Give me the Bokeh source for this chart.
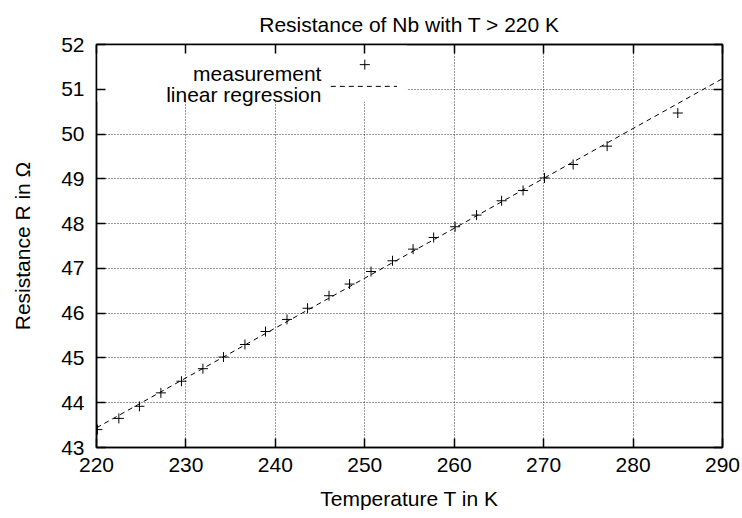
from bokeh.plotting import figure
from bokeh.models import (LinearAxis, SingleIntervalTicker, BoxAnnotation, Label,
                          Range1d, ColumnDataSource)
from bokeh.embed import file_html
from bokeh.resources import INLINE

# ---- data ----
temperature_K = [220.1, 222.5, 224.8, 227.2, 229.5, 231.9, 234.2, 236.6, 238.9,
                 241.3, 243.6, 246.0, 248.3, 250.7, 253.1, 255.4, 257.7, 260.1,
                 262.5, 265.3, 267.7, 270.1, 273.3, 277.1, 285.0]
resistance_ohm = [43.40, 43.65, 43.92, 44.22, 44.48, 44.76, 45.02, 45.30, 45.59,
                  45.86, 46.11, 46.39, 46.65, 46.93, 47.17, 47.43, 47.69, 47.93,
                  48.19, 48.51, 48.74, 49.02, 49.32, 49.73, 50.47]

# linear regression parameters
fit_T0 = 220.0
fit_R0 = 43.44        # Ohm at T0
fit_slope = 0.1114    # Ohm per K
fit_T = [220.0, 290.0]
fit_R = [fit_R0 + fit_slope * (t - fit_T0) for t in fit_T]

x_ticks_interval = 10
y_ticks_interval = 1
labels = ["measurement", "linear regression"]
title_text = "Resistance of Nb with T > 220 K"

FONT = "Liberation Sans"
FS = "21px"

p = figure(width=742, height=518, x_range=Range1d(220, 290), y_range=Range1d(43, 52),
           output_backend="svg", toolbar_location=None,
           min_border_left=96, min_border_right=20, min_border_top=44,
           min_border_bottom=71, background_fill_color="white",
           border_fill_color="white")

p.title.text = title_text
p.title.text_font = FONT
p.title.text_font_size = FS
p.title.text_font_style = "normal"
p.title.text_color = "black"
p.title.align = "center"
p.title.standoff = 18

p.outline_line_color = "black"
p.outline_line_width = 1.5
p.outline_line_alpha = 1.0

xt = SingleIntervalTicker(interval=x_ticks_interval, num_minor_ticks=0)
yt = SingleIntervalTicker(interval=y_ticks_interval, num_minor_ticks=0)

for ax, t in ((p.xaxis[0], xt), (p.yaxis[0], yt)):
    ax.ticker = t
    ax.major_tick_in = 9
    ax.major_tick_out = 0
    ax.minor_tick_line_color = None
    ax.major_tick_line_width = 1.5
    ax.major_tick_line_color = "black"
    ax.axis_line_color = "black"
    ax.axis_line_width = 1.5
    ax.major_label_text_font = FONT
    ax.major_label_text_font_size = FS
    ax.major_label_text_color = "black"
    ax.axis_label_text_font = FONT
    ax.axis_label_text_font_size = FS
    ax.axis_label_text_font_style = "normal"
    ax.axis_label_text_color = "black"

p.xaxis.axis_label = "Temperature T in K"
p.yaxis.axis_label = "Resistance R in \u03a9"
p.xaxis.major_label_standoff = 10
p.xaxis.axis_label_standoff = 12
p.yaxis.major_label_standoff = 12
p.yaxis.axis_label_standoff = 24

# mirrored ticks on top and right
for side, t in (("above", xt), ("right", yt)):
    ax = LinearAxis(ticker=t, major_tick_in=9, major_tick_out=0,
                    minor_tick_line_color=None, major_tick_line_width=1.5,
                    axis_line_width=1.5, major_label_text_font_size="0px",
                    major_label_text_alpha=0, major_label_standoff=0)
    p.add_layout(ax, side)

for g in (p.xgrid[0], p.ygrid[0]):
    g.grid_line_color = "black"
    g.grid_line_dash = "1 2"
    g.grid_line_width = 1
    g.grid_line_alpha = 0.8

# legend background (white, no border) covering the grid
p.add_layout(BoxAnnotation(left=220, right=254.7, bottom=50.72, top=52,
                           fill_color="white", fill_alpha=1.0, line_color=None,
                           level="glyph"))

src = ColumnDataSource(dict(T=temperature_K, R=resistance_ohm))
p.line(fit_T, fit_R, line_color="black", line_width=1, line_dash="5 4")
p.scatter("T", "R", source=src, marker="cross", size=10, line_color="black",
          line_width=1)

# legend in gnuplot style: text on the left, sample on the right
legend_text_T = 245.15
legend_rows_R = [51.36, 50.89]
for lab, yb in zip(labels, legend_rows_R):
    p.add_layout(Label(x=legend_text_T, y=yb, text=lab, text_align="right",
                       text_baseline="alphabetic", text_font=FONT,
                       text_font_size=FS, text_color="black"))
s1 = p.scatter([250.0], [51.55], marker="cross", size=10, line_color="black",
               line_width=1)
s2 = p.line([246.2, 253.6], [51.065, 51.065], line_color="black", line_width=1,
            line_dash="5 4")
s1.level = "annotation"
s2.level = "annotation"

open("out.html", "w").write(file_html(p, INLINE))
